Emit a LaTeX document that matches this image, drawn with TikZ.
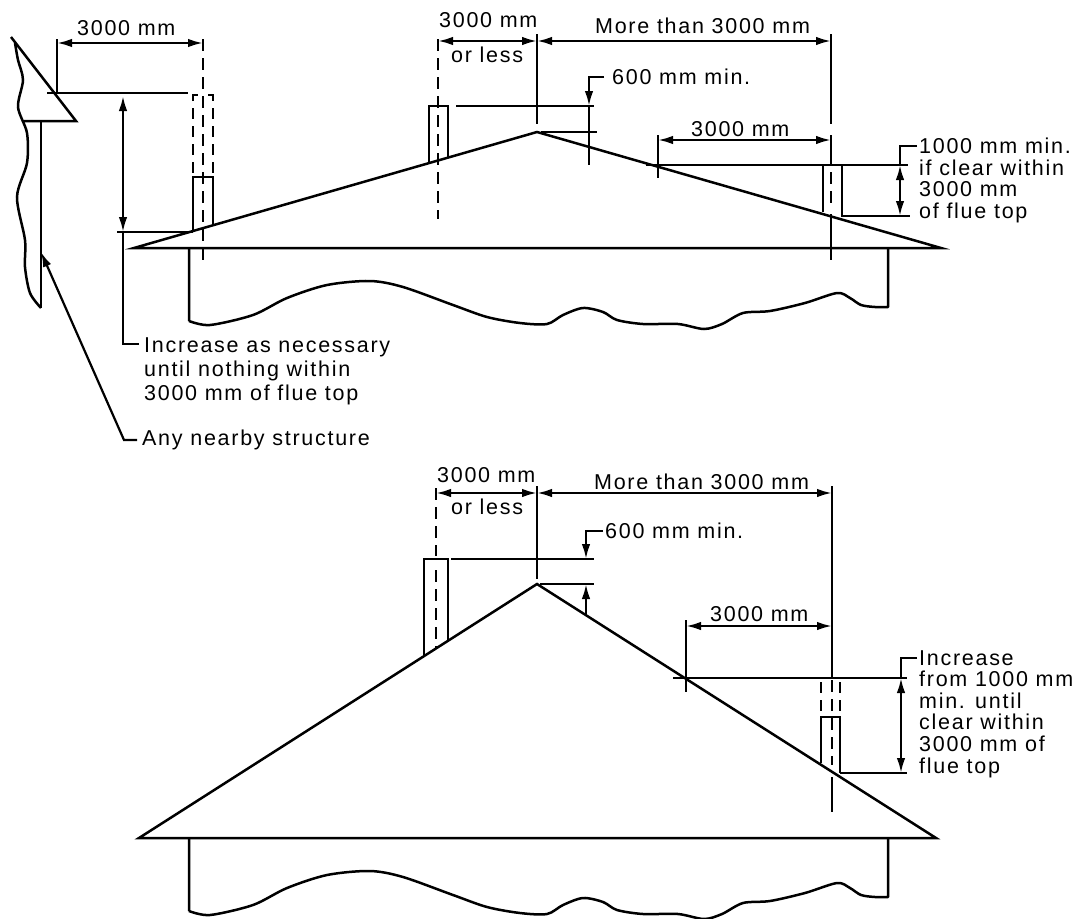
\documentclass[tikz,border=0pt]{standalone}
\usepackage{fontspec}
\setmainfont[LetterSpace=8]{Liberation Sans}
\usetikzlibrary{arrows.meta}
\tikzset{
  heavy/.style={line width=2.5pt},
  light/.style={line width=2.2pt},
  centre/.style={line width=2.2pt, dash pattern=on 12pt off 7pt},
  ghost/.style={line width=2.2pt, dash pattern=on 11pt off 7pt},
  dim/.style={line width=2.2pt, {Latex[length=15pt,width=8.5pt]}-{Latex[length=15pt,width=8.5pt]}},
  lead/.style={line width=2.2pt, -{Latex[length=15pt,width=8.5pt]}},
  tag/.style={inner sep=0pt, align=left, font=\fontsize{21.5}{21.6}\selectfont}
}
\begin{document}
\begin{tikzpicture}[x=1pt, y=-1pt]
  \useasboundingbox (0,0) rectangle (1078,918);

  % Walls below both eaves
  \foreach \drop in {0,590} {
    \draw[heavy, yshift=-\drop pt, line join=round] (189,248) -- (189,321) plot[smooth] coordinates {(189,321) (210,325) (253,315) (287,298) (327,285) (370,281) (403,287) (453,305) (487,317) (520,323) (547,324) (563,315) (583,308) (603,312) (617,320) (643,324) (678,324) (704,329) (722,324) (743,313) (770,311) (805,303) (837,293) (850,298) (861,305) (875,307) (888,307)} -- (888,248);
  }

  % Top roof
  \draw[heavy] (134,248) -- (537,132) -- (941,248) -- cycle;

  % Nearby structure
  \draw[heavy] (11,37) -- (76,121) -- (24,121);
  \draw[heavy] (41,121) -- (41,308);
  \draw[heavy] plot[smooth] coordinates {(15,43) (18,60) (23,80) (18,107) (27,133) (27,163) (17,197) (25,240) (25,267) (30,293) (41,308)};

  % Top left flue
  \draw[light] (193,231) -- (193,177) -- (213,177) -- (213,225);
  \draw[centre] (203,39) -- (203,262);
  \draw[light] (193,101) -- (193,95) -- (198,95) (208,95) -- (213,95) -- (213,101);
  \draw[ghost] (193,108) -- (193,175) (213,108) -- (213,175);
  \draw[heavy] (47,93) -- (188,93);
  \draw[heavy] (117,232) -- (193,232);
  \draw[light] (57,39) -- (57,93);
  \draw[dim] (57,43) -- (203,43);
  \draw[dim] (123,96) -- (123,232);

  % Top middle flue
  \draw[light] (429,163) -- (429,106) -- (448,106) -- (448,157);
  \draw[centre] (438,39) -- (438,219);
  \draw[heavy] (456,106) -- (594,106);
  \draw[heavy] (541,132) -- (597,132);
  \draw[light] (537,34) -- (537,124);
  \draw[dim] (438,41) -- (537,41);
  \draw[dim] (537,41) -- (831,41);
  \draw[light] (589,106) -- (589,165);

  % Top right flue
  \draw[light] (831,34) -- (831,124);
  \draw[light] (831,135) -- (831,165);
  \draw[centre] (831,172) -- (831,210);
  \draw[light] (831,214) -- (831,260);
  \draw[light] (823,212) -- (823,165) (842,165) -- (842,217);
  \draw[heavy] (646,165) -- (908,165);
  \draw[heavy] (842,216) -- (910,216);
  \draw[light] (658,135) -- (658,178);
  \draw[dim] (658,140) -- (831,140);
  \draw[dim] (900,165) -- (900,216);

  % Bottom roof
  \draw[heavy] (139,838) -- (537,584) -- (936,838) -- cycle;

  % Bottom middle flue
  \draw[light] (424,655) -- (424,559) -- (448,559) -- (448,640);
  \draw[centre] (436,488) -- (436,556);
  \draw[centre] (436,570) -- (436,648);
  \draw[heavy] (451,559) -- (594,559);
  \draw[heavy] (540,584) -- (594,584);
  \draw[light] (537,486) -- (537,579);
  \draw[dim] (436,493) -- (537,493);
  \draw[dim] (537,493) -- (832,493);

  % Bottom right flue
  \draw[light] (832,486) -- (832,678);
  \draw[light] (686,620) -- (686,692);
  \draw[heavy] (673,678) -- (907,678);
  \draw[heavy] (840,773) -- (907,773);
  \draw[light] (821,763) -- (821,717) -- (840,717) -- (840,773);
  \draw[ghost] (821,682) -- (821,715) (840,682) -- (840,715);
  \draw[centre] (832,680) -- (832,765);
  \draw[light] (832,777) -- (832,812);
  \draw[dim] (686,626) -- (832,626);
  \draw[dim] (901,678) -- (901,773);

  % Dimension texts
  \node[tag, anchor=west] (clearA) at (77,28) {3000 mm};
  \node[tag, anchor=west] (lessA) at (439,20) {3000 mm};
  \node[tag, anchor=west] (orlessA) at (451,55) {or less};
  \node[tag, anchor=west] (moreA) at (595,26) {More than 3000 mm};
  \node[tag, anchor=west] (clearB) at (691,129) {3000 mm};
  \node[tag, anchor=west] (lessB) at (437,475) {3000 mm};
  \node[tag, anchor=west] (orlessB) at (451,507) {or less};
  \node[tag, anchor=west] (moreB) at (594,482) {More than 3000 mm};
  \node[tag, anchor=west] (clearC) at (710,614) {3000 mm};

  % Texts with leaders
  \node[tag, anchor=west] (ridgeA) at (612,77) {600 mm min.};
  \node[tag, anchor=west] (ridgeB) at (605,531) {600 mm min.};
  \node[tag, anchor=north west] (raiseA) at (144,338) {Increase as necessary\\[2.4pt]until nothing within\\[2.4pt]3000 mm of flue top};
  \node[tag, anchor=west] (nearby) at (142,440) {Any nearby structure};
  \node[tag, anchor=north west] (minA) at (919,138) {1000 mm min.\\if clear within\\3000 mm\\of flue top};
  \node[tag, anchor=north west] (minB) at (919,650) {Increase\\from 1000 mm\\min. until\\clear within\\3000 mm of\\flue top};

  % Leaders
  \draw[lead, shorten <=8pt] (ridgeA.west) -- (589,77) -- (589,106);
  \draw[lead, shorten <=2pt] (ridgeB.west) -- (586,531) -- (586,559);
  \draw[lead] (586,615) -- (586,584);
  \draw[lead, shorten <=5pt] (nearby.west) -- (124,440) -- (41,252);
  \draw[light] (139,344) -- (123,344) -- (123,232);
  \draw[light] (917,146) -- (900,146) -- (900,165);
  \draw[light] (917,658) -- (901,658) -- (901,678);
\end{tikzpicture}
\end{document}
